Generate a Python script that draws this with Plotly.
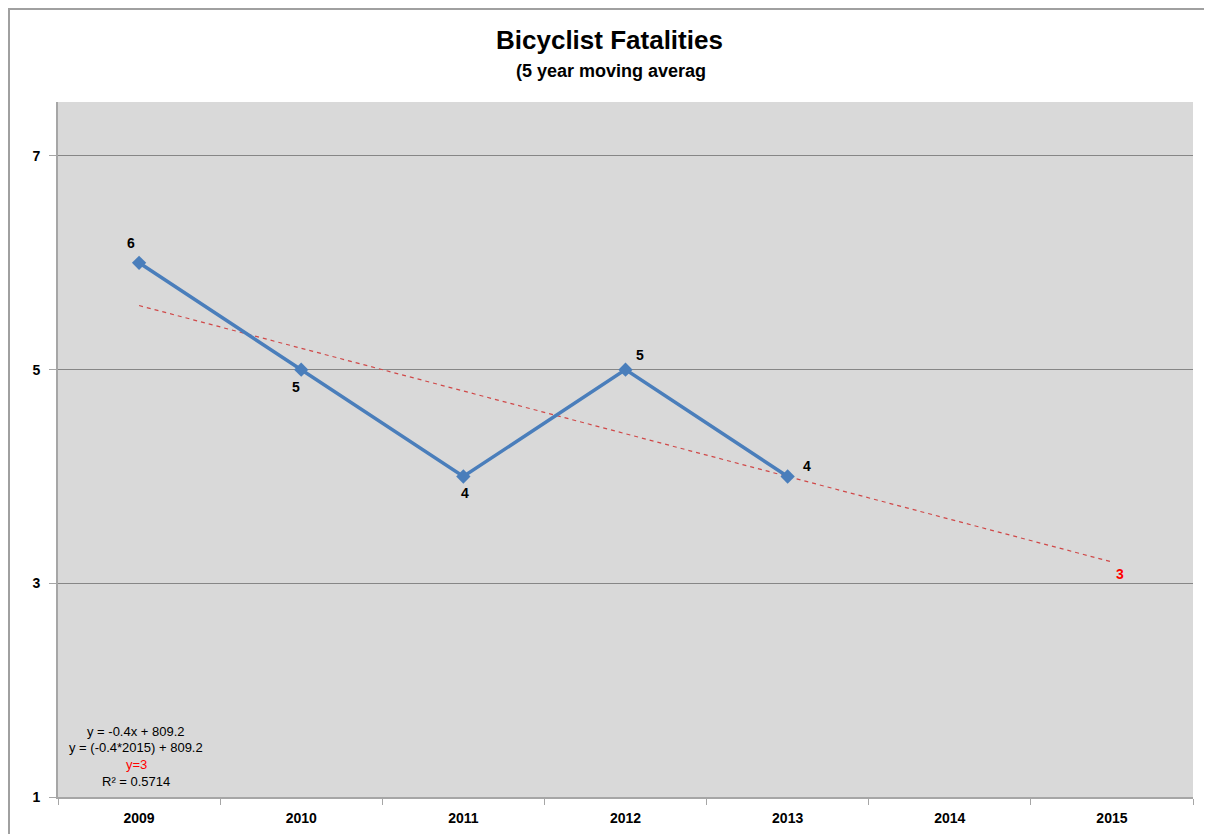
import plotly.graph_objects as go

years = ["2009", "2010", "2011", "2012", "2013", "2014", "2015"]
data_years = ["2009", "2010", "2011", "2012", "2013"]
fatalities = [6, 5, 4, 5, 4]
trend_years = ["2009", "2015"]
slope = -0.4
intercept = 809.2
trend_values = [slope * int(y) + intercept for y in trend_years]
forecast_label = "3"
equation_lines = ["y = -0.4x + 809.2", "y = (-0.4*2015) + 809.2", "y=3", "R² = 0.5714"]
equation_colors = ["black", "black", "red", "black"]
# label offsets (px) relative to each data point
label_shift = [(-8, 20), (-5, -17), (2, -17), (14, 15), (19, 10)]

FONT = "Liberation Sans"
W, H = 1204, 826
ML, MR, MT, MB = 50, 19, 94, 37
PW, PH = W - ML - MR, H - MT - MB

fig = go.Figure()
fig.add_trace(go.Scatter(
    x=trend_years, y=trend_values, mode="lines",
    line=dict(color="#d04848", width=1.2, dash="4px,4px"),
    hoverinfo="skip", showlegend=False))
fig.add_trace(go.Scatter(
    x=data_years, y=fatalities, mode="lines+markers",
    line=dict(color="#4a7ebb", width=3.5),
    marker=dict(symbol="diamond", size=11, color="#4a7ebb"),
    showlegend=False))

annotations = []
for xv, yv, (dx, dy) in zip(data_years, fatalities, label_shift):
    annotations.append(dict(
        x=years.index(xv), y=yv, xref="x", yref="y", text=f"<b>{yv}</b>", showarrow=False,
        xshift=dx, yshift=dy, font=dict(family=FONT, size=14, color="black")))
annotations.append(dict(
    x=years.index(trend_years[-1]), y=trend_values[-1], xref="x", yref="y",
    text=f"<b>{forecast_label}</b>", showarrow=False, xshift=8, yshift=-12,
    font=dict(family=FONT, size=14, color="red")))

# titles
annotations.append(dict(
    xref="paper", yref="paper", x=(601 - ML) / PW, y=1 + (MT - 32) / PH, xanchor="center", yanchor="middle",
    text="<b>Bicyclist Fatalities</b>", showarrow=False,
    font=dict(family=FONT, size=26, color="black")))
annotations.append(dict(
    xref="paper", yref="paper", x=(603 - ML) / PW, y=1 + (MT - 63) / PH, xanchor="center", yanchor="middle",
    text="<b>(5 year moving averag</b>", showarrow=False,
    font=dict(family=FONT, size=18, color="black")))

# equation box
eq_y = [723, 739, 756, 773]
for txt, col, fy in zip(equation_lines, equation_colors, eq_y):
    annotations.append(dict(
        xref="paper", yref="paper", x=(128 - ML) / PW, y=1 - (fy - MT) / PH,
        xanchor="center", yanchor="middle", text=txt, showarrow=False,
        font=dict(family=FONT, size=13, color=col)))

fig.update_layout(
    width=W, height=H,
    margin=dict(l=ML, r=MR, t=MT, b=MB, autoexpand=False),
    paper_bgcolor="white", plot_bgcolor="#d9d9d9",
    font=dict(family=FONT, color="black"),
    xaxis=dict(
        type="category", categoryorder="array", categoryarray=years,
        tickvals=years, ticktext=[f"<b>{y}</b>" for y in years],
        tickson="boundaries", ticks="outside", ticklen=6, tickcolor="#a6a6a6",
        showgrid=False, showline=True, linecolor="#a6a6a6", linewidth=2,
        tickfont=dict(family=FONT, size=14), ticklabelstandoff=7, automargin=False,
        range=[-0.5, 6.5], zeroline=False),
    yaxis=dict(
        range=[1, 7.505], tickvals=[1, 3, 5, 7], ticktext=["<b>1</b>", "<b>3</b>", "<b>5</b>", "<b>7</b>"],
        ticks="outside", ticklen=7, automargin=False,
        tickcolor="#a6a6a6", showgrid=True, gridcolor="#868686", gridwidth=1,
        showline=True, linecolor="#a6a6a6", linewidth=2, zeroline=False,
        tickfont=dict(family=FONT, size=14), ticklabelstandoff=6),
    annotations=annotations,
    shapes=[
        dict(type="line", xref="paper", yref="paper", x0=-ML / PW, x1=1 + MR / PW,
             y0=1 + (MT - 1) / PH, y1=1 + (MT - 1) / PH,
             line=dict(color="#a0a0a0", width=2)),
        dict(type="line", xref="paper", yref="paper", x0=-(ML - 1) / PW, x1=-(ML - 1) / PW,
             y0=-MB / PH, y1=1 + (MT - 1) / PH,
             line=dict(color="#a0a0a0", width=2)),
    ],
)

fig.write_html("out.html")
